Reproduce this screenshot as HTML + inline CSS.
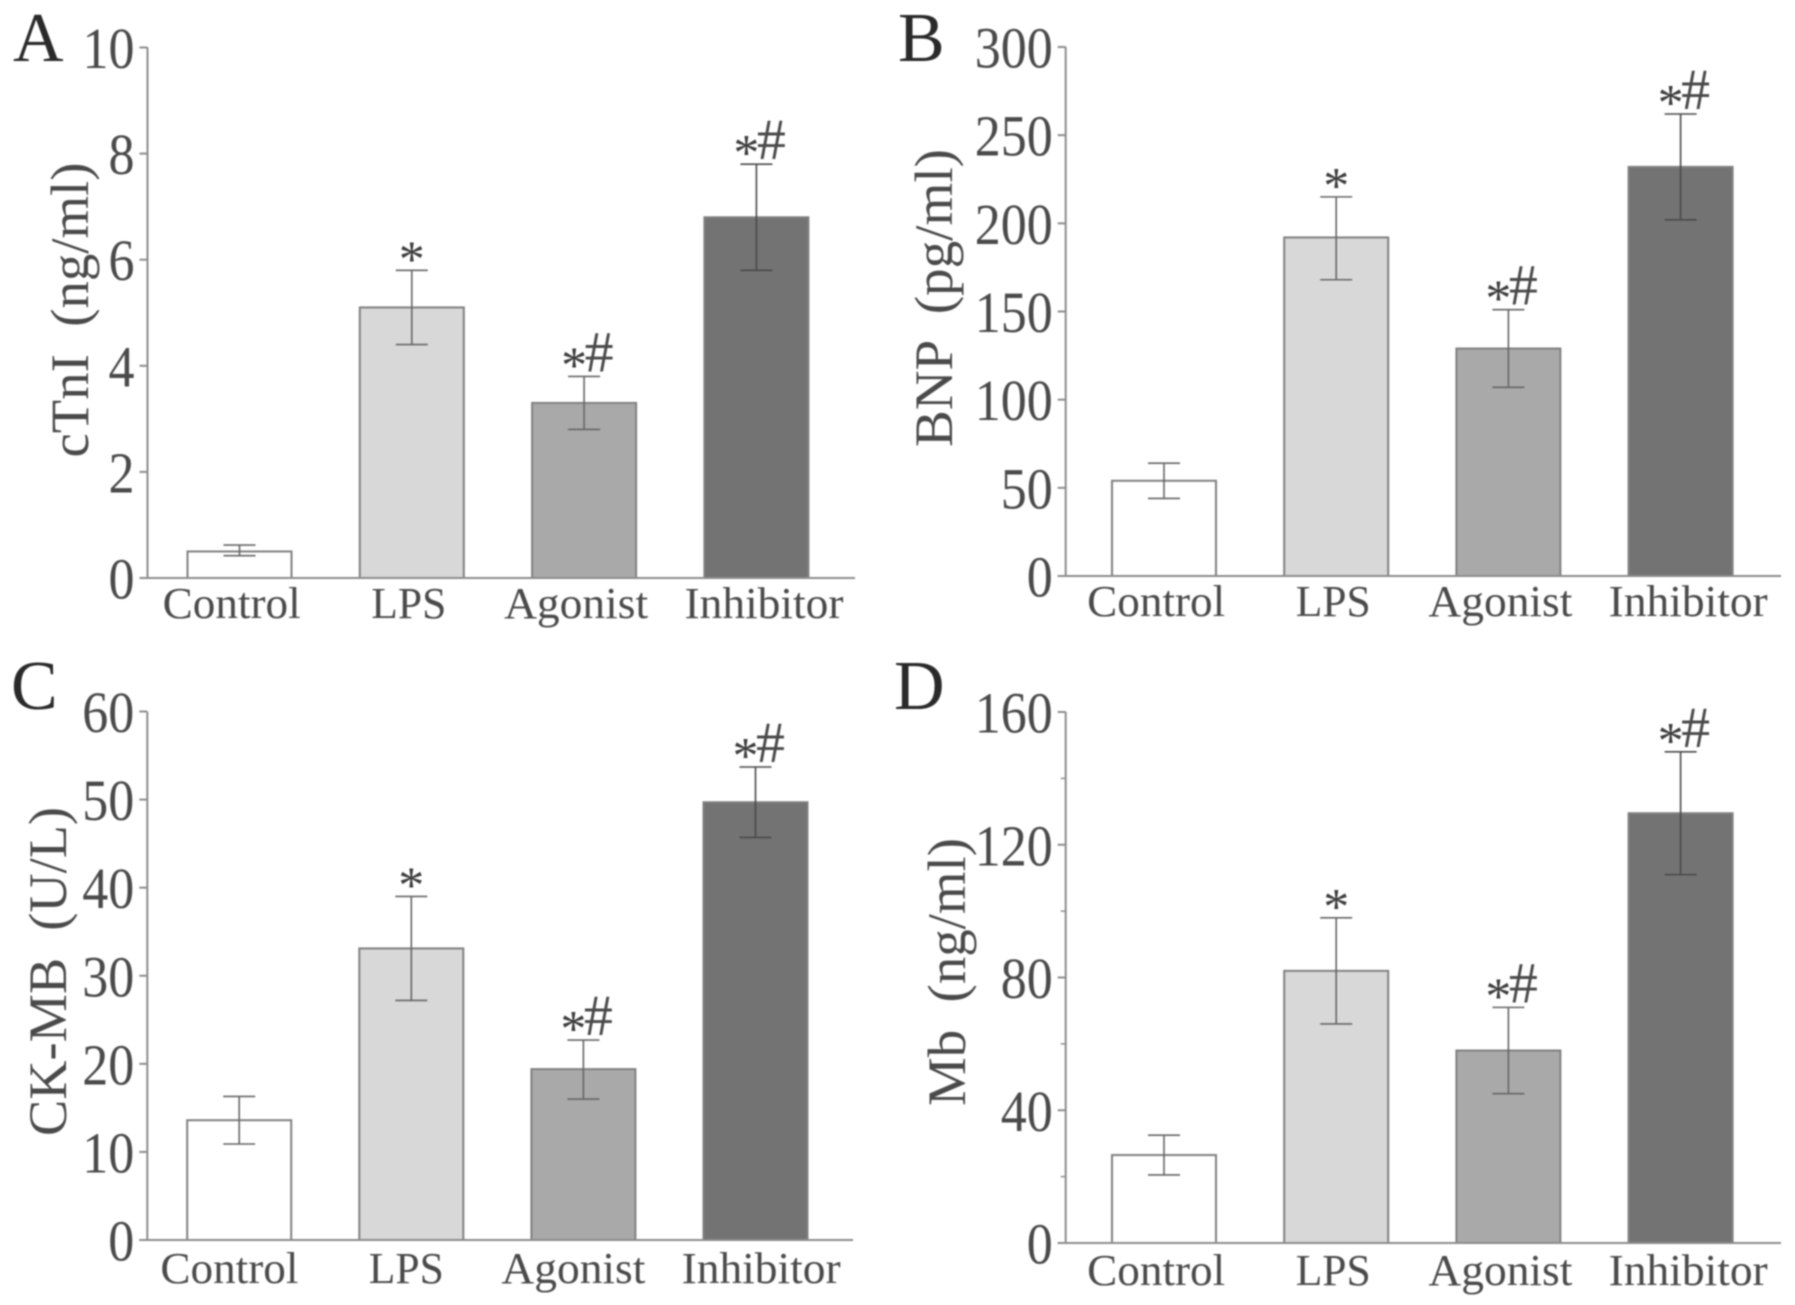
<!DOCTYPE html>
<html lang="en">
<head>
<meta charset="utf-8">
<title>Cardiac injury markers by treatment group</title>
<style>
  html, body { margin: 0; padding: 0; background: #fff; }
  svg { display: block; width: 1795px; height: 1305px; font-family: "Liberation Serif", serif; }
  #plots { filter: blur(0.7px); }
</style>
</head>
<body>
<svg id="chart" xmlns="http://www.w3.org/2000/svg" width="1795" height="1305" viewBox="0 0 1795 1305">
  <g id="plots"></g>
</svg>
<script>
// Shared categories
const categories = ['Control', 'LPS', 'Agonist', 'Inhibitor'];
const significance = ['', '*', '*#', '*#'];

// Panel A - cTnI
const cTnIValues = [0.5, 5.1, 3.3, 6.8];
const cTnIUpper = [0.62, 5.8, 3.8, 7.8];
const cTnILower = [0.42, 4.4, 2.8, 5.8];
const cTnITicks = [0, 2, 4, 6, 8, 10];
const cTnIMinorTicks = [];

// Panel B - BNP
const bnpValues = [54, 192, 129, 232];
const bnpUpper = [64, 215, 151, 262];
const bnpLower = [44, 168, 107, 202];
const bnpTicks = [0, 50, 100, 150, 200, 250, 300];
const bnpMinorTicks = [];

// Panel C - CK-MB
const ckmbValues = [13.6, 33.1, 19.4, 49.7];
const ckmbUpper = [16.3, 39, 22.7, 53.7];
const ckmbLower = [10.9, 27.2, 16, 45.7];
const ckmbTicks = [0, 10, 20, 30, 40, 50, 60];
const ckmbMinorTicks = [];

// Panel D - Mb
const mbValues = [26.5, 82, 58, 129.5];
const mbUpper = [32.5, 98, 71, 148];
const mbLower = [20.5, 66, 45, 111];
const mbTicks = [0, 40, 80, 120, 160];
const mbMinorTicks = [20, 60, 100, 140];

const SVG_NS = 'http://www.w3.org/2000/svg';
const root = document.getElementById('plots');
const barFills = ['#ffffff', '#d8d8d8', '#a9a9a9', '#737373'];
const labelShift = [-7.8, -3, -8, 7.6];
const labelWidths = [138, 75, 144, 159];
const INK = '#4a4a4a';
const AXIS = '#8c8c8c';

function make(tag, parent, attrs) {
  const node = document.createElementNS(SVG_NS, tag);
  for (const key in attrs) node.setAttribute(key, attrs[key]);
  parent.appendChild(node);
  return node;
}

function drawPanel(p) {
  const yScale = v => p.base - (v - 0) / p.max * (p.base - p.top);
  const xScale = i => p.firstCenter + i * p.step;
  const key = p.letter.toLowerCase();

  const group = make('g', root, {});
  
  

  const letter = make('text', group, { x: p.letterX, y: p.letterY, 'font-size': 70, fill: '#2a2a2a' });
  
  
  letter.textContent = p.letter;

  const title = make('text', group, {
    x: 0, y: 0, 'font-size': 54, fill: INK, 'text-anchor': 'middle',
    textLength: p.titleLength, lengthAdjust: 'spacingAndGlyphs',
    style: 'white-space:pre',
    transform: 'translate(' + p.titleX + ' ' + p.titleY + ') rotate(-90)'
  });
  
  
  title.textContent = p.title;

  p.values.forEach((value, i) => {
    const bar = make('rect', group, {
      x: xScale(i) - 52, y: yScale(value), width: 104, height: p.base - yScale(value),
      fill: barFills[i], stroke: '#808080', 'stroke-width': 2
    });
    
    

    const errorColor = i === 3 ? '#4a4a4a' : '#666666';
    const stem = make('line', group, {
      x1: xScale(i), x2: xScale(i), y1: yScale(p.upper[i]), y2: yScale(p.lower[i]),
      stroke: errorColor, 'stroke-width': 1.6
    });
    
    

    [p.upper[i], p.lower[i]].forEach(edge => {
      const cap = make('line', group, {
        x1: xScale(i) - 16, x2: xScale(i) + 16, y1: yScale(edge), y2: yScale(edge),
        stroke: errorColor, 'stroke-width': 1.6
      });
      
      
    });

    const mark = significance[i];
    const capY = yScale(p.upper[i]);
    if (mark.includes('*')) {
      const star = make('text', group, {
        x: xScale(i) + (mark.length > 1 ? -10 : 0), y: capY - 18 + 24,
        'font-size': 52, fill: '#3c3c3c', 'text-anchor': 'middle'
      });
      
      
      star.textContent = '*';
    }
    if (mark.includes('#')) {
      const hash = make('text', group, {
        x: xScale(i) + 15, y: capY - 25 + 20,
        'font-size': 58, fill: '#4a4a4a', 'text-anchor': 'middle'
      });
      
      
      hash.textContent = '#';
    }

    const label = make('text', group, {
      x: xScale(i) + labelShift[i] + p.labelOffset, y: p.labelY, 'font-size': 44, fill: INK,
      'text-anchor': 'middle', textLength: labelWidths[i], lengthAdjust: 'spacingAndGlyphs'
    });
    
    
    label.textContent = categories[i];
  });

  const yAxis = make('line', group, {
    x1: p.axisX, x2: p.axisX, y1: p.top, y2: p.base, stroke: AXIS, 'stroke-width': 2
  });
  
  

  const xAxis = make('line', group, {
    x1: p.axisX - 8, x2: p.axisEnd, y1: p.base, y2: p.base, stroke: AXIS, 'stroke-width': 2
  });
  
  

  p.ticks.forEach(value => {
    const tick = make('line', group, {
      x1: p.axisX - 8, x2: p.axisX, y1: yScale(value), y2: yScale(value),
      stroke: AXIS, 'stroke-width': 2
    });
    
    

    const text = String(value);
    const tickLabel = make('text', group, {
      x: p.axisX - 13, y: yScale(value) + 20.5, 'font-size': 58, fill: INK,
      'text-anchor': 'end', textLength: text.length * 26, lengthAdjust: 'spacingAndGlyphs'
    });
    
    
    tickLabel.textContent = text;
  });

  p.minor.forEach(value => {
    const minorTick = make('line', group, {
      x1: p.axisX - 5, x2: p.axisX, y1: yScale(value), y2: yScale(value),
      stroke: AXIS, 'stroke-width': 1.5
    });
    
    
  });
}

drawPanel({ letter: 'A', letterX: 13, letterY: 61, title: 'cTnI  (ng/ml)', titleX: 88, titleY: 310, titleLength: 295,
  axisX: 147.5, axisEnd: 855, top: 47.5, base: 578, max: 10, firstCenter: 239.5, step: 172.3, labelY: 618, labelOffset: 0,
  values: cTnIValues, upper: cTnIUpper, lower: cTnILower, ticks: cTnITicks, minor: cTnIMinorTicks });

drawPanel({ letter: 'B', letterX: 898, letterY: 61, title: 'BNP  (pg/ml)', titleX: 952, titleY: 298, titleLength: 298,
  axisX: 1065.7, axisEnd: 1781, top: 47, base: 576, max: 300, firstCenter: 1164, step: 172.2, labelY: 616, labelOffset: 0,
  values: bnpValues, upper: bnpUpper, lower: bnpLower, ticks: bnpTicks, minor: bnpMinorTicks });

drawPanel({ letter: 'C', letterX: 11, letterY: 709, title: 'CK-MB  (U/L)', titleX: 66, titleY: 971.5, titleLength: 329,
  axisX: 147.3, axisEnd: 853, top: 711.5, base: 1240, max: 60, firstCenter: 239.2, step: 172.1, labelY: 1283, labelOffset: -2,
  values: ckmbValues, upper: ckmbUpper, lower: ckmbLower, ticks: ckmbTicks, minor: ckmbMinorTicks });

drawPanel({ letter: 'D', letterX: 894, letterY: 709, title: 'Mb  (ng/ml)', titleX: 965, titleY: 972, titleLength: 268,
  axisX: 1065.7, axisEnd: 1781, top: 712, base: 1243, max: 160, firstCenter: 1164, step: 172.2, labelY: 1285, labelOffset: 0,
  values: mbValues, upper: mbUpper, lower: mbLower, ticks: mbTicks, minor: mbMinorTicks });
</script>
</body>
</html>
